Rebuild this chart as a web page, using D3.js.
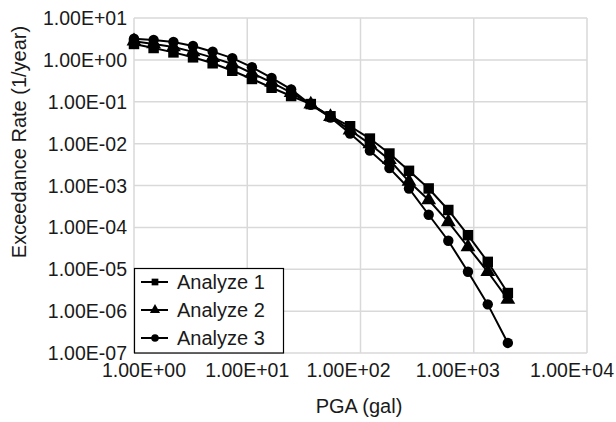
<!DOCTYPE html>
<html>
<head>
<meta charset="utf-8">
<script src="https://cdn.jsdelivr.net/npm/d3@7"></script>
<style>
  body { margin: 0; background: #fff; }
  text { font-family: "Liberation Sans", Arial, sans-serif; fill: #1a1a1a; }
</style>
</head>
<body>
<div id="chart"></div>
<script>
// PGA (gal) sample points shared by all three runs
const pga = [1, 1.49, 2.23, 3.32, 4.95, 7.38, 11, 16.4, 24.4, 36.4, 54.3, 80.9, 121, 180, 268, 400, 596, 889, 1330, 2000];

const analyze1 = [2.4, 1.92, 1.51, 1.15, 0.83, 0.55, 0.35, 0.216, 0.137, 0.088, 0.045, 0.026, 0.0132, 0.0058, 0.00224, 8.5e-4, 2.6e-4, 6.5e-5, 1.5e-5, 2.7e-6];
const analyze2 = [2.8, 2.4, 2.03, 1.55, 1.13, 0.8, 0.48, 0.29, 0.165, 0.087, 0.044, 0.021, 0.0098, 0.0041, 0.00124, 4.5e-4, 1.35e-4, 3.4e-5, 8.7e-6, 1.9e-6];
const analyze3 = [3.2, 2.98, 2.67, 2.14, 1.57, 1.1, 0.67, 0.37, 0.198, 0.085, 0.042, 0.0174, 0.0068, 0.0026, 8.5e-4, 2.0e-4, 4.8e-5, 8.7e-6, 1.45e-6, 1.74e-7];

const seriesNames = ["Analyze 1", "Analyze 2", "Analyze 3"];
const seriesSymbols = [d3.symbolSquare, d3.symbolTriangle, d3.symbolCircle];

const xTicks = [1, 10, 100, 1000, 10000];
const yTicks = [1e1, 1e0, 1e-1, 1e-2, 1e-3, 1e-4, 1e-5, 1e-6, 1e-7];
// the x labels sit a bit off their grid lines in the original
const xLabelShift = [10, 0, -12, -16, -15];

const fmtE = (v) => {
  const [m, e] = v.toExponential(2).toUpperCase().split("E");
  const n = +e;
  return m + "E" + (n < 0 ? "-" : "+") + String(Math.abs(n)).padStart(2, "0");
};

const width = 616, height = 422;
const margin = { left: 134, top: 18, right: 29, bottom: 69 };
const iw = width - margin.left - margin.right;
const ih = height - margin.top - margin.bottom;

const x = d3.scaleLog().domain([1, 10000]).range([0, iw]);
const y = d3.scaleLog().domain([1e-7, 10]).range([ih, 0]);

const svg = d3.select("#chart").append("svg")
  .attr("width", width)
  .attr("height", height);

const g = svg.append("g").attr("transform", `translate(${margin.left},${margin.top})`);

// grid
g.append("g").selectAll("line").data(xTicks).join("line")
  .attr("x1", (d) => x(d)).attr("x2", (d) => x(d))
  .attr("y1", 0).attr("y2", ih)
  .attr("stroke", "#d9d9d9").attr("stroke-width", 1.5);
g.append("g").selectAll("line").data(yTicks).join("line")
  .attr("y1", (d) => y(d)).attr("y2", (d) => y(d))
  .attr("x1", 0).attr("x2", iw)
  .attr("stroke", "#d9d9d9").attr("stroke-width", 1.5);

// tick labels
g.append("g").selectAll("text").data(xTicks).join("text")
  .attr("x", (d, i) => x(d) + xLabelShift[i]).attr("y", ih + 24)
  .attr("text-anchor", "middle")
  .attr("font-size", 19.5)
  .text(fmtE);
g.append("g").selectAll("text").data(yTicks).join("text")
  .attr("x", -7).attr("y", (d) => y(d) + 7)
  .attr("text-anchor", "end")
  .attr("font-size", 19.5)
  .text(fmtE);

// axis titles
svg.append("text")
  .attr("x", 359).attr("y", 413)
  .attr("text-anchor", "middle")
  .attr("font-size", 20)
  .text("PGA (gal)");
svg.append("text")
  .attr("transform", "translate(26,142) rotate(-90)")
  .attr("text-anchor", "middle")
  .attr("font-size", 20)
  .text("Exceedance Rate (1/year)");

// series
const allSeries = [analyze1, analyze2, analyze3];
const line = d3.line().x((d) => x(d[0])).y((d) => y(d[1]));
const markerSize = [110, 95, 85];

allSeries.forEach((vals, i) => {
  const pts = pga.map((p, j) => [p, vals[j]]);
  g.append("path").datum(pts)
    .attr("d", line)
    .attr("fill", "none")
    .attr("stroke", "#000")
    .attr("stroke-width", 2);
  g.append("g").selectAll("path").data(pts).join("path")
    .attr("transform", (d) => `translate(${x(d[0])},${y(d[1])})`)
    .attr("d", d3.symbol().type(seriesSymbols[i]).size(markerSize[i]))
    .attr("fill", "#000");
});

// legend
const lg = g.append("g").attr("transform", `translate(0,${ih - 85})`);
lg.append("rect")
  .attr("x", 0.5).attr("y", 0.5)
  .attr("width", 149).attr("height", 84.5)
  .attr("fill", "#fff").attr("stroke", "#000").attr("stroke-width", 1.2);
seriesNames.forEach((name, i) => {
  const cy = 14 + i * 28;
  lg.append("line")
    .attr("x1", 7).attr("x2", 34).attr("y1", cy).attr("y2", cy)
    .attr("stroke", "#000").attr("stroke-width", 2);
  lg.append("path")
    .attr("transform", `translate(21,${cy})`)
    .attr("d", d3.symbol().type(seriesSymbols[i]).size(45))
    .attr("fill", "#000");
  lg.append("text")
    .attr("x", 43).attr("y", cy + 7)
    .attr("font-size", 20)
    .text(name);
});
</script>
</body>
</html>
